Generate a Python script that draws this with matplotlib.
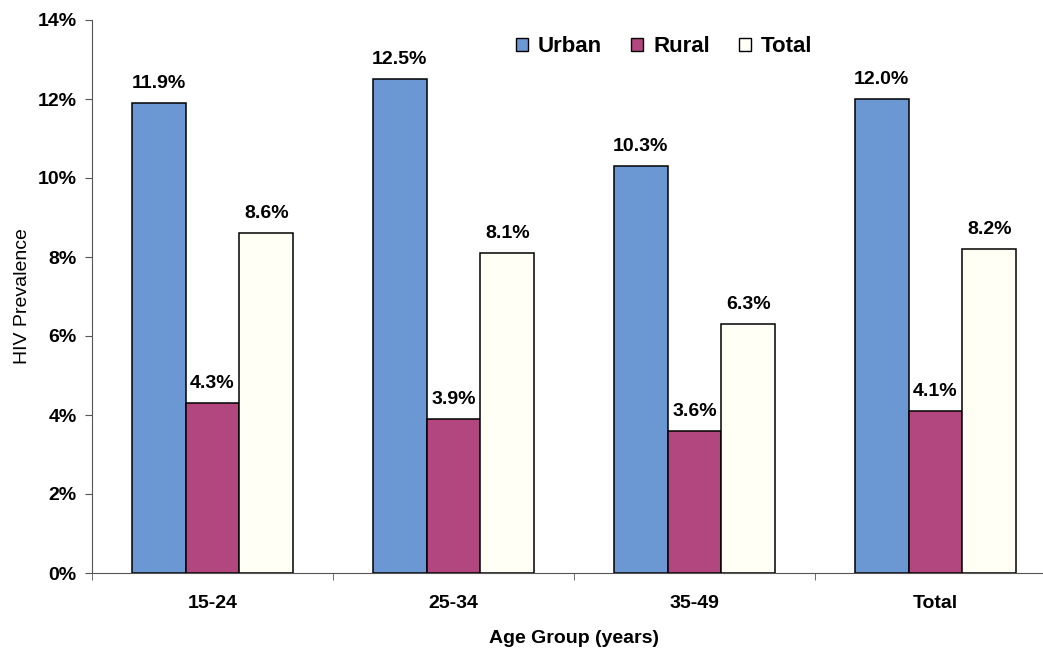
import matplotlib.pyplot as plt
import numpy as np
from matplotlib.patches import Patch
from matplotlib.ticker import FuncFormatter, MultipleLocator

plt.rcParams['font.family'] = ['Liberation Sans', 'DejaVu Sans']

# HIV prevalence (%) by age group
groups = ['15-24', '25-34', '35-49', 'Total']
urban = [11.9, 12.5, 10.3, 12.0]
rural = [4.3, 3.9, 3.6, 4.1]
total = [8.6, 8.1, 6.3, 8.2]

series = [('Urban', urban, '#6b97d3'),
          ('Rural', rural, '#b2467e'),
          ('Total', total, '#fffff6')]

fig = plt.figure(figsize=(10.43, 6.49), dpi=100)
ax = fig.add_axes([92 / 1043, 1 - 573 / 649, 964 / 1043, 553 / 649])

x = np.arange(len(groups))
width = 0.224
offsets = [-width, 0, width]

for (name, vals, color), off in zip(series, offsets):
    bars = ax.bar(x + off, vals, width, color=color, edgecolor='black',
                  linewidth=1.1, label=name, zorder=2)
    for b, v in zip(bars, vals):
        ax.annotate(f'{v:.1f}%', (b.get_x() + b.get_width() / 2, v),
                    xytext=(0, 8), textcoords='offset points',
                    ha='center', va='bottom', fontsize=14, fontweight='bold')

ax.set_xlim(-0.5, len(groups) - 0.5)
ax.set_ylim(0, 14)
ax.yaxis.set_major_locator(MultipleLocator(2))
ax.yaxis.set_major_formatter(FuncFormatter(lambda v, p: f'{v:.0f}%'))

ax.set_xticks(x)
ax.set_xticklabels(groups)
ax.set_xticks(np.arange(len(groups) + 1) - 0.5, minor=True)
ax.tick_params(axis='x', which='major', length=0, pad=16, labelsize=14)
ax.tick_params(axis='x', which='minor', length=5, color='#555555')
ax.tick_params(axis='y', length=5, color='#555555', labelsize=14, pad=6)
for lab in ax.get_xticklabels() + ax.get_yticklabels():
    lab.set_fontweight('bold')

for side in ['top', 'right']:
    ax.spines[side].set_visible(False)
for side in ['left', 'bottom']:
    ax.spines[side].set_color('#555555')

ax.set_ylabel('HIV Prevalence', fontsize=14, labelpad=5)
ax.set_xlabel('Age Group (years)', fontsize=14, fontweight='bold', labelpad=13)

handles = [Patch(facecolor=c, edgecolor='black', linewidth=1.0) for _, _, c in series]
fig.legend(handles, [s[0] for s in series], loc='center',
           bbox_to_anchor=(664 / 1043, 1 - 47 / 649), ncol=3, frameon=False,
           handlelength=0.55, handleheight=0.55, handletextpad=0.45,
           columnspacing=1.3, prop={'weight': 'bold', 'size': 16})

fig.savefig('out.png', dpi=100)
